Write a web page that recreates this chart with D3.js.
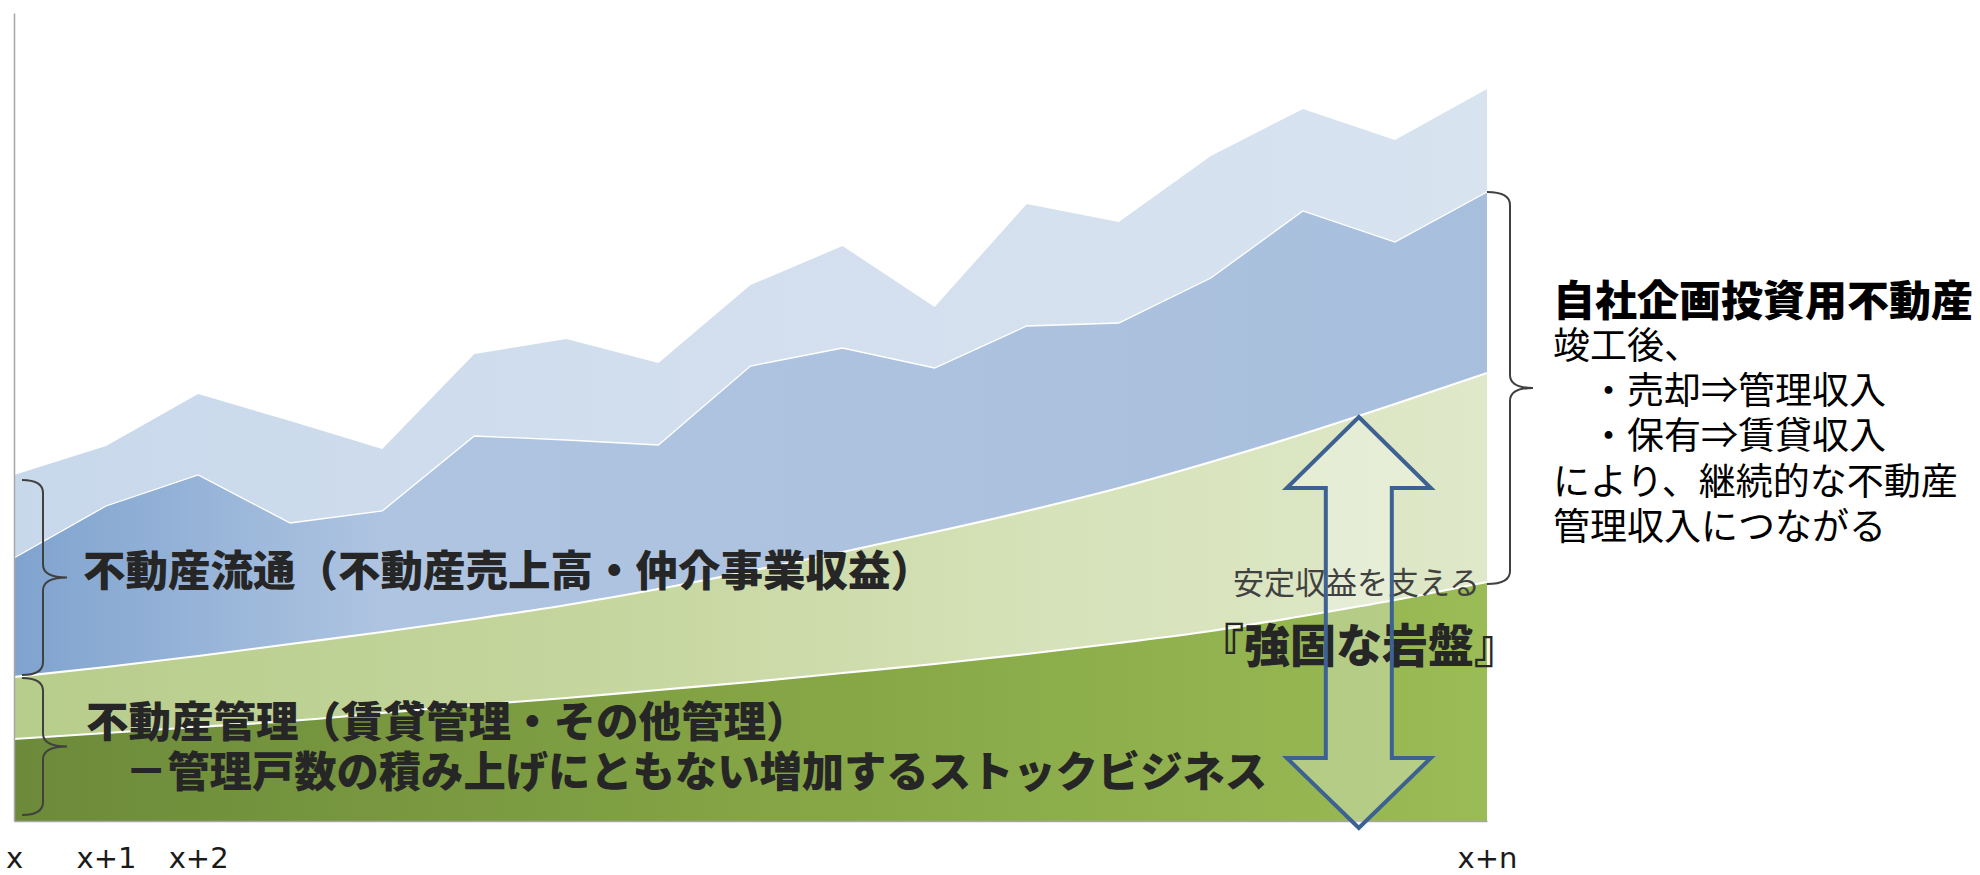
<!DOCTYPE html>
<html>
<head>
<meta charset="utf-8">
<script src="https://cdn.jsdelivr.net/npm/d3@7"></script>
<style>
  body { margin: 0; background: #fff; }
  text { font-family: "Noto Sans CJK JP", "Noto Sans", sans-serif; }
</style>
</head>
<body>
<div id="chart"></div>
<script>
// periods on the x axis, only a few are labelled
var periods = ["x", "x+1", "x+2", "x+3", "x+4", "x+5", "x+6", "x+7", "x+8",
    "x+9", "x+10", "x+11", "x+12", "x+13", "x+14", "x+15", "x+n"];
var tickLabels = ["x", "x+1", "x+2", "x+n"];

// stacked layers, bottom to top
var kanriBase  = [82, 88, 94, 100, 108, 116, 123, 131, 139, 148, 157, 167, 178, 190, 205, 221, 239];
var kanriGrow  = [62, 66, 71, 77, 81, 86, 93, 101, 111, 121, 132, 143, 155, 169, 182, 196, 209];
var ryutsu     = [119, 161, 181, 121, 121, 183, 165, 144, 205, 204, 164, 185, 165, 184, 223, 162, 181];
var jisha      = [83, 60, 81, 102, 62, 82, 101, 82, 81, 102, 61, 122, 101, 122, 102, 102, 103];

var keys = ["kanriBase", "kanriGrow", "ryutsu", "jisha"];
var table = periods.map(function (p, i) {
    return {period: p, kanriBase: kanriBase[i], kanriGrow: kanriGrow[i], ryutsu: ryutsu[i], jisha: jisha[i]};
});

var width = 1980, height = 875;

var svg = d3.select("#chart")
    .append("svg")
    .attr("width", width)
    .attr("height", height);

var xScale = d3.scalePoint().domain(periods).range([14, 1487]);
var yScale = d3.scaleLinear().domain([0, 808]).range([821, 13]);

// gradients (horizontal, like the office fills)
var grads = {
    kanriBase: [[0, "#6c8a3a"], [0.5, "#84a445"], [1, "#9abb55"]],
    kanriGrow: [[0, "#b7cd8b"], [0.4, "#c5d69e"], [0.7, "#d6e2b9"], [1, "#dfe8c9"]],
    ryutsu:    [[0, "#7fa3cf"], [0.25, "#aec4e1"], [0.6, "#adc2df"], [1, "#a7bfdd"]],
    jisha:     [[0, "#c8d8eb"], [0.5, "#d3dfee"], [1, "#d8e3f0"]]
};
var defs = svg.append("defs");
keys.forEach(function (k) {
    var g = defs.append("linearGradient").attr("id", "g-" + k)
        .attr("x1", 0).attr("x2", 1).attr("y1", 0).attr("y2", 0);
    grads[k].forEach(function (s) {
        g.append("stop").attr("offset", s[0]).attr("stop-color", s[1]);
    });
});

var series = d3.stack().keys(keys)(table);

var area = d3.area()
    .x(function (d) { return xScale(d.data.period); })
    .y0(function (d) { return yScale(d[0]); })
    .y1(function (d) { return yScale(d[1]); });

var smooth = d3.line()
    .x(function (d) { return xScale(d.data.period); })
    .y(function (d) { return yScale(d[1]); });

svg.append("g").selectAll("path").data(series).enter()
    .append("path")
    .attr("d", function (d) {
        return d.key === "kanriBase" || d.key === "kanriGrow" ? area.curve(d3.curveMonotoneX)(d) : area.curve(d3.curveLinear)(d);
    })
    .attr("fill", function (d) { return "url(#g-" + d.key + ")"; });

// white borders between layers
svg.append("g").selectAll("path").data(series.slice(0, 3)).enter()
    .append("path")
    .attr("d", function (d) {
        return d.key === "ryutsu" ? smooth.curve(d3.curveLinear)(d) : smooth.curve(d3.curveMonotoneX)(d);
    })
    .attr("fill", "none")
    .attr("stroke", "#fff")
    .attr("stroke-width", function (d) { return d.key === "ryutsu" ? 1.3 : 2.2; });

// axes
var xAxis = d3.axisBottom(xScale).tickValues(tickLabels).tickSize(0);
var gx = svg.append("g").attr("transform", "translate(0,821)").call(xAxis);
gx.select(".domain").attr("stroke", "#a6a6a6").attr("stroke-width", 1.5);
gx.selectAll("text")
    .attr("y", 47).attr("dy", 0)
    .attr("fill", "#1a1a1a")
    .style("font-family", "'DejaVu Sans', sans-serif")
    .style("font-size", "29px");

var yAxis = d3.axisLeft(yScale).tickValues([]).tickSize(0);
var gy = svg.append("g").attr("transform", "translate(14,0)").call(yAxis);
gy.select(".domain").attr("stroke", "#a6a6a6").attr("stroke-width", 1.5);

// braces
function brace(x0, xv, xt, y0, y1, r) {
    var ym = (y0 + y1) / 2;
    return "M" + x0 + "," + y0 +
        "Q" + xv + "," + y0 + " " + xv + "," + (y0 + r) +
        "L" + xv + "," + (ym - r) +
        "Q" + xv + "," + ym + " " + xt + "," + ym +
        "Q" + xv + "," + ym + " " + xv + "," + (ym + r) +
        "L" + xv + "," + (y1 - r) +
        "Q" + xv + "," + y1 + " " + x0 + "," + y1;
}
var braces = [[22, 43, 67, 480, 675], [22, 43, 67, 678, 815], [1487, 1510, 1533, 192, 584]];
svg.append("g").selectAll("path").data(braces).enter()
    .append("path")
    .attr("d", function (b) { return brace(b[0], b[1], b[2], b[3], b[4], 13); })
    .attr("fill", "none")
    .attr("stroke", "#404040")
    .attr("stroke-width", 2);

// double arrow
var ax = xScale("x+13") + 148;
var arrowPts = [[0, 417], [72, 488], [33, 488], [33, 758], [72, 758], [0, 828],
    [-72, 758], [-33, 758], [-33, 488], [-72, 488]];
var arrowPath = "M" + arrowPts.map(function (p) { return (ax + p[0]) + "," + p[1]; }).join("L") + "Z";
svg.append("path").attr("d", arrowPath).attr("fill", "#fff").attr("fill-opacity", 0.3);

// labels inside the chart
var labels = [
    {t: "不動産流通（不動産売上高・仲介事業収益）", x: 83, y: 586, s: 42.5, w: 900, c: "#262626", a: "start"},
    {t: "不動産管理（賃貸管理・その他管理）", x: 86, y: 737, s: 42.5, w: 900, c: "#262626", a: "start"},
    {t: "－管理戸数の積み上げにともない増加するストックビジネス", x: 125, y: 787, s: 42.3, w: 900, c: "#262626", a: "start"},
    {t: "安定収益を支える", x: 1233, y: 594, s: 31, w: 400, c: "#404040", a: "start"},
    {t: "『強固な岩盤』", x: 1359, y: 662, s: 46, w: 900, c: "#262626", a: "middle"}
];
svg.append("g").selectAll("text").data(labels).enter()
    .append("text")
    .attr("x", function (d) { return d.x; })
    .attr("y", function (d) { return d.y; })
    .attr("text-anchor", function (d) { return d.a; })
    .attr("fill", function (d) { return d.c; })
    .style("font-size", function (d) { return d.s + "px"; })
    .style("font-weight", function (d) { return d.w; })
    .text(function (d) { return d.t; });

svg.append("path").attr("d", arrowPath).attr("fill", "none")
    .attr("stroke", "#3d6291").attr("stroke-width", 4).attr("stroke-linejoin", "miter");

// note on the right
var noteTitle = "自社企画投資用不動産";
var noteLines = ["竣工後、", "　・売却⇒管理収入", "　・保有⇒賃貸収入", "により、継続的な不動産", "管理収入につながる"];
svg.append("text")
    .attr("x", 1553).attr("y", 316)
    .attr("fill", "#000")
    .style("font-size", "42px").style("font-weight", 900)
    .text(noteTitle);
svg.append("g").selectAll("text").data(noteLines).enter()
    .append("text")
    .attr("x", 1553)
    .attr("y", function (d, i) { return 359 + 45.2 * i; })
    .attr("fill", "#000")
    .style("font-size", "37px")
    .text(function (d) { return d; });
</script>
</body>
</html>
